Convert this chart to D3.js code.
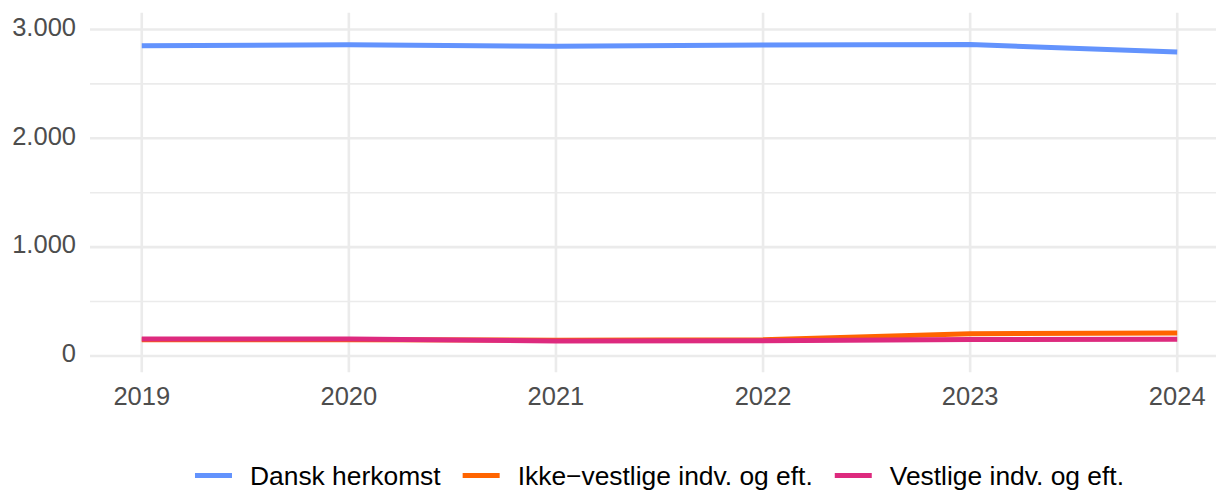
<!DOCTYPE html>
<html>
<head>
<meta charset="utf-8">
<script src="https://cdn.jsdelivr.net/npm/d3@7"></script>
<style>
  html, body { margin: 0; padding: 0; background: #fff; }
  svg { display: block; font-family: "Liberation Sans", Arial, sans-serif; }
</style>
</head>
<body>
<svg id="chart" width="1216" height="491"></svg>
<script>
// Years on the x axis
const years = [2019, 2020, 2021, 2022, 2023, 2024];

// Series (one value per year)
const seriesNames = ["Dansk herkomst", "Ikke\u2212vestlige indv. og eft.", "Vestlige indv. og eft."];
const danskHerkomst = [2850, 2860, 2845, 2858, 2862, 2793];
const ikkeVestlige = [150, 148, 145, 150, 205, 212];
const vestlige = [155, 155, 138, 140, 152, 153];
const seriesColors = ["#6393fd", "#ff6400", "#dd2a7e"];

// Axis tick values and labels
const yTicks = [0, 1000, 2000, 3000];
const yMinorTicks = [500, 1500, 2500];
const yTickLabels = ["0", "1.000", "2.000", "3.000"];

const series = [danskHerkomst, ikkeVestlige, vestlige].map((vals, i) => ({
  name: seriesNames[i],
  color: seriesColors[i],
  values: vals.map((v, j) => ({ year: years[j], value: v }))
}));

const svg = d3.select("#chart");
const panel = { left: 90, right: 1229, top: 12.7, bottom: 372.3 };

const x = d3.scaleLinear()
  .domain([2019 - 0.25, 2024 + 0.25])
  .range([panel.left, panel.right]);

const y = d3.scaleLinear()
  .domain([-150, 3154])
  .range([panel.bottom, panel.top]);

const grid = svg.append("g");

// minor horizontal grid
grid.selectAll("line.minor")
  .data(yMinorTicks)
  .join("line")
  .attr("class", "minor")
  .attr("x1", panel.left).attr("x2", panel.right)
  .attr("y1", d => y(d)).attr("y2", d => y(d))
  .attr("stroke", "#ebebeb").attr("stroke-width", 1.6);

// major horizontal grid
grid.selectAll("line.hmajor")
  .data(yTicks)
  .join("line")
  .attr("class", "hmajor")
  .attr("x1", panel.left).attr("x2", panel.right)
  .attr("y1", d => y(d)).attr("y2", d => y(d))
  .attr("stroke", "#ebebeb").attr("stroke-width", 2.6);

// vertical grid
grid.selectAll("line.vmajor")
  .data(years)
  .join("line")
  .attr("class", "vmajor")
  .attr("x1", d => x(d)).attr("x2", d => x(d))
  .attr("y1", panel.top).attr("y2", panel.bottom)
  .attr("stroke", "#ebebeb").attr("stroke-width", 2.6);

// y tick labels
svg.append("g").selectAll("text")
  .data(yTicks)
  .join("text")
  .attr("x", 76)
  .attr("y", d => y(d) + 6.3)
  .attr("text-anchor", "end")
  .attr("font-size", 25.5)
  .attr("fill", "#4d4d4d")
  .text((d, i) => yTickLabels[i]);

// x tick labels
svg.append("g").selectAll("text")
  .data(years)
  .join("text")
  .attr("x", d => x(d))
  .attr("y", 405)
  .attr("text-anchor", "middle")
  .attr("font-size", 25.5)
  .attr("fill", "#4d4d4d")
  .text(d => d);

// lines
const line = d3.line()
  .x(d => x(d.year))
  .y(d => y(d.value));

svg.append("g").selectAll("path")
  .data(series)
  .join("path")
  .attr("d", d => line(d.values))
  .attr("fill", "none")
  .attr("stroke", d => d.color)
  .attr("stroke-width", 5)
  .attr("stroke-linejoin", "round");

// legend
const legend = svg.append("g");
const keyLen = 37, keyGap = 18, itemGap = 22;
const legendBaseline = 485;
let cursor = 0;
series.forEach(s => {
  const g = legend.append("g");
  g.append("line")
    .attr("x1", 0).attr("x2", keyLen)
    .attr("y1", legendBaseline - 9.5).attr("y2", legendBaseline - 9.5)
    .attr("stroke", s.color).attr("stroke-width", 5);
  const t = g.append("text")
    .attr("x", keyLen + keyGap)
    .attr("y", legendBaseline)
    .attr("font-size", 26.4)
    .attr("fill", "#000")
    .text(s.name);
  const w = keyLen + keyGap + t.node().getComputedTextLength();
  g.attr("transform", `translate(${cursor},0)`);
  cursor += w + itemGap;
});
const total = cursor - itemGap;
const center = (panel.left + panel.right) / 2;
legend.attr("transform", `translate(${center - total / 2},0)`);
</script>
</body>
</html>
